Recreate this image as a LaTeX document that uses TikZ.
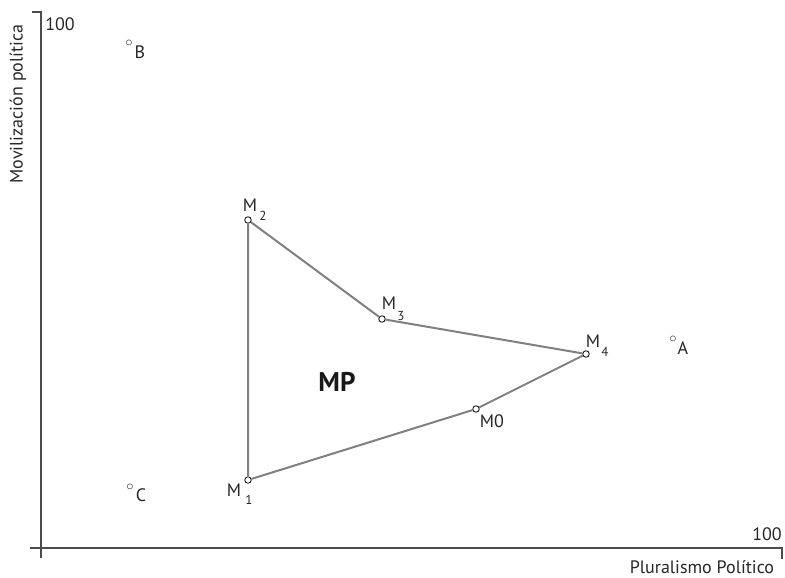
\documentclass[tikz,border=0pt]{standalone}
\usepackage{fontspec}
\setmainfont{PT Sans}
\begin{document}
\begin{tikzpicture}[x=1pt,y=-1pt,
  axis/.style={draw=black!70, line width=1.3pt},
  edge/.style={draw=black!50, line width=2pt},
  pt/.style={circle, draw=black, fill=white, line width=0.8pt, inner sep=0pt, minimum size=6.5pt},
  lbl/.style={font=\fontsize{18}{20}\selectfont, inner sep=0pt, text=black!85},
  sub/.style={font=\fontsize{13}{14}\selectfont, inner sep=0pt, text=black!85},
  deg/.style={font=\fontsize{15}{16}\selectfont, inner sep=0pt, text=black!85}]
\useasboundingbox (0,0) rectangle (785,578);
% axes
\coordinate (ytop) at (41,12);
\coordinate (ytick) at (32,12);
\coordinate (ybot) at (41,558);
\coordinate (xleft) at (30,548);
\coordinate (xright) at (782,548);
\coordinate (xtick) at (782,559);
\draw[axis] (ytick) -- (ytop) -- (ybot);
\draw[axis] (xleft) -- (xright) -- (xtick);
\node[lbl] (y100) at (60,24) {100};
\node[lbl] (x100) at (767,534) {100};
\node[lbl, rotate=90] (ylab) at (18,104) {Movilización política};
\node[lbl] (xlab) at (702,567) {Pluralismo Político};
% points
\node[pt] (M1) at (248,480) {};
\node[pt] (M2) at (248,220) {};
\node[pt] (M3) at (382,319) {};
\node[pt] (M4) at (586,354) {};
\node[pt] (M0) at (476,409) {};
\draw[edge] (M1) -- (M2) -- (M3) -- (M4) -- (M0) -- (M1);
% labels
\node[lbl] (l2) at (250,205) {M};
\node[sub] (s2) at (263,216) {2};
\node[lbl] (l3) at (389,303) {M};
\node[sub] (s3) at (401,316) {3};
\node[lbl] (l4) at (593,341) {M};
\node[sub] (s4) at (605,352) {4};
\node[lbl] (l1) at (234,490) {M};
\node[sub] (s1) at (249,500) {1};
\node[lbl] (l0) at (492,421) {M0};
\node[deg] (dA) at (673,339) {$\circ$};
\node[lbl] (A) at (683,348) {A};
\node[deg] (dB) at (129,43) {$\circ$};
\node[lbl] (B) at (140,52) {B};
\node[deg] (dC) at (130,487) {$\circ$};
\node[lbl] (C) at (141,495) {C};
\node[font=\fontsize{27}{30}\selectfont\bfseries, inner sep=0pt, text=black!90] (MP) at (337,382) {MP};
\end{tikzpicture}
\end{document}
